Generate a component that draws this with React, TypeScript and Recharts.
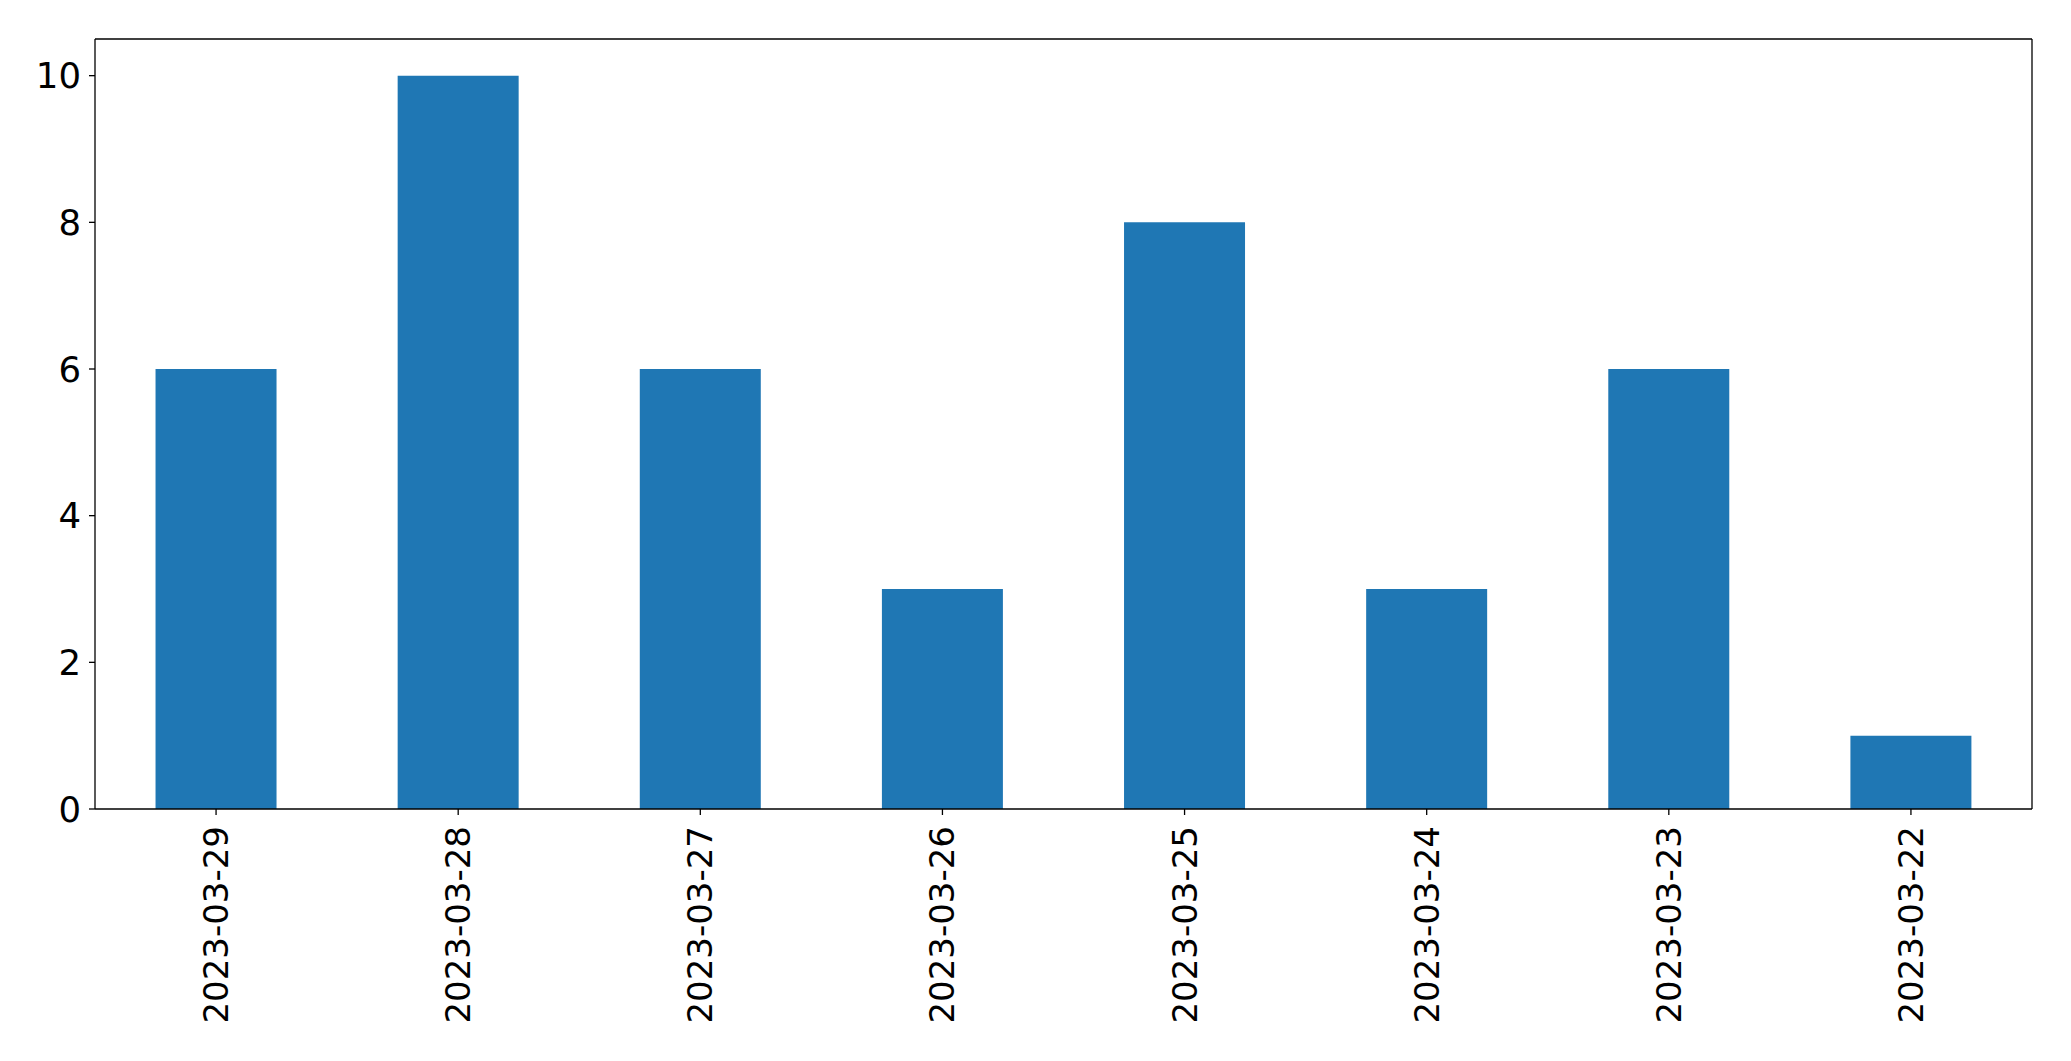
import React from 'react';
import { BarChart, Bar, XAxis, YAxis, CartesianGrid } from 'recharts';

const dates = ['2023-03-29', '2023-03-28', '2023-03-27', '2023-03-26', '2023-03-25', '2023-03-24', '2023-03-23', '2023-03-22'];
const counts = [6, 10, 6, 3, 8, 3, 6, 1];
const yTicks = [0, 2, 4, 6, 8, 10];

const font = 'DejaVu Sans';

const RotatedTick = (props: any) => {
  const { x, y, payload } = props;
  return (
    <text
      transform={`translate(${x},${y}) rotate(-90)`}
      textAnchor="end"
      dominantBaseline="central"
      fontSize={34}
      fontFamily={font}
      fill="#000"
    >
      {payload.value}
    </text>
  );
};

const App: React.FC = () => {
  const data = dates.map((d, i) => ({ date: d, count: counts[i] }));

  return (
    <div style={{ position: 'absolute', left: 0, top: 0, width: 2071, height: 1061, background: '#fff' }}>
      <BarChart
        width={2071}
        height={1061}
        data={data}
        barCategoryGap="25%"
        margin={{ top: 39, right: 39, bottom: 2, left: 0 }}
      >
        {/* top and right spines of the frame */}
        <CartesianGrid
          stroke="#000"
          strokeWidth={1.3}
          horizontalCoordinatesGenerator={({ offset }: any) => [offset.top]}
          verticalCoordinatesGenerator={({ offset }: any) => [offset.left + offset.width]}
        />
        <XAxis
          dataKey="date"
          interval={0}
          height={250}
          tickSize={6}
          tickMargin={11}
          tick={<RotatedTick />}
          axisLine={{ stroke: '#000', strokeWidth: 1.3 }}
          tickLine={{ stroke: '#000', strokeWidth: 1.3 }}
        />
        <YAxis
          domain={[0, 10.5]}
          ticks={yTicks}
          width={95}
          tickSize={6}
          tickMargin={8}
          interval={0}
          tick={{ fontSize: 35.5, fontFamily: font, fill: '#000' }}
          axisLine={{ stroke: '#000', strokeWidth: 1.3 }}
          tickLine={{ stroke: '#000', strokeWidth: 1.3 }}
        />
        <Bar dataKey="count" fill="#1f77b4" isAnimationActive={false} />
      </BarChart>
    </div>
  );
};

export default App;
